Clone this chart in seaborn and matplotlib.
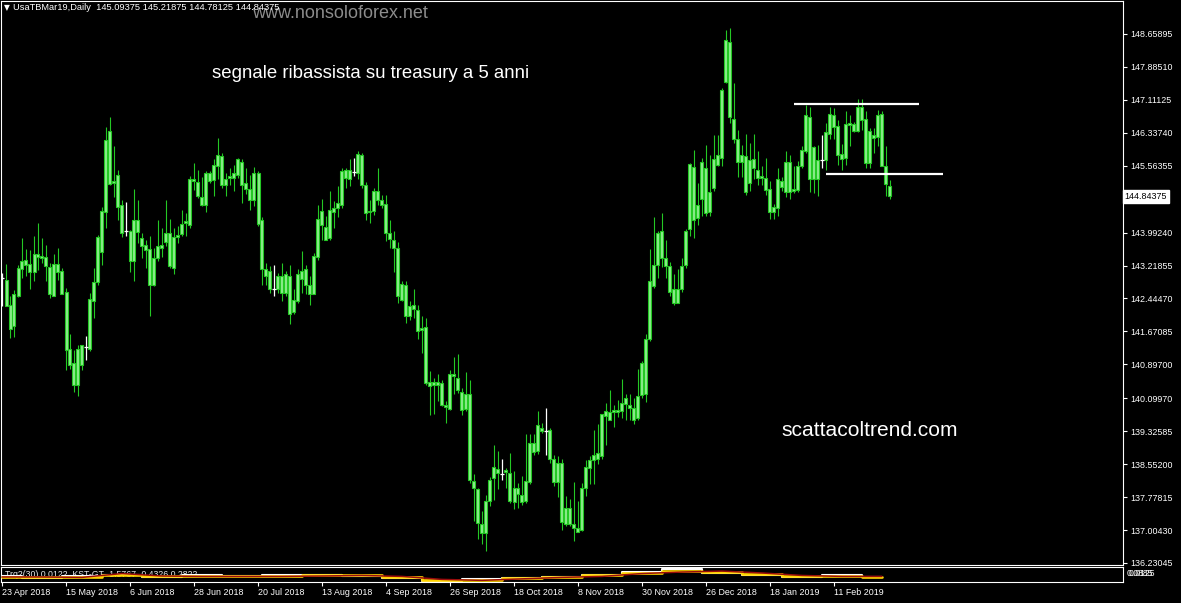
import numpy as np
import pandas as pd
import matplotlib
matplotlib.use("Agg")
import matplotlib.pyplot as plt
import matplotlib.transforms as mtrans
import seaborn as sns

# ---------------- data ----------------
opens = [142.93, 142.89, 142.28, 141.79, 142.50, 143.14, 143.24, 143.26, 143.06, 143.50,
         143.45, 143.42, 143.18, 142.51, 143.26, 143.08, 142.59, 141.25, 140.92, 140.40,
         140.89, 141.31, 141.26, 142.38, 142.82, 143.53, 144.47, 146.39, 145.16, 145.35,
         144.65, 144.02, 144.04, 143.32, 144.30, 143.86, 143.69, 143.61, 142.77, 143.40,
         143.69, 143.76, 143.98, 143.16, 143.89, 143.97, 144.21, 144.18, 145.24, 145.17,
         144.83, 144.65, 145.39, 145.22, 145.55, 145.80, 145.12, 145.28, 145.39, 145.35,
         145.65, 145.16, 145.02, 144.75, 145.39, 144.28, 143.13, 143.09, 142.67, 142.67,
         142.97, 142.58, 142.97, 142.12, 142.38, 143.09, 143.13, 142.77, 142.56, 143.42,
         144.49, 144.13, 143.87, 144.47, 144.57, 144.65, 145.28, 145.46, 145.41, 145.39,
         145.82, 145.11, 144.47, 144.49, 144.96, 144.76, 144.67, 143.98, 143.82, 143.63,
         142.42, 142.77, 142.04, 142.28, 142.18, 141.75, 141.78, 140.48, 140.42, 140.48,
         140.45, 139.94, 139.85, 140.62, 140.58, 140.24, 139.84, 140.21, 138.15, 137.96,
         137.14, 136.93, 137.69, 138.23, 138.44, 138.31, 138.37, 138.35, 137.66, 138.00,
         137.82, 137.69, 138.13, 138.84, 138.86, 139.41, 139.34, 139.35, 138.68, 138.13,
         138.59, 137.14, 137.53, 137.14, 137.04, 137.01, 137.98, 138.47, 138.65, 138.68,
         138.74, 139.68, 139.78, 139.78, 139.82, 139.80, 139.96, 139.93, 139.88, 139.64,
         140.17, 140.19, 141.50, 142.73, 143.24, 143.40, 143.40, 143.20, 142.67, 142.34,
         142.67, 143.24, 144.08, 145.53, 144.34, 144.77, 145.51, 144.47, 145.04, 145.59,
         145.75, 147.54, 148.48, 146.66, 146.19, 145.64, 145.80, 145.16, 145.72, 145.47,
         145.27, 145.27, 145.02, 144.47, 144.57, 145.20, 144.94, 145.64, 144.96, 145.00,
         145.55, 145.90, 146.71, 145.24, 145.70, 145.70, 145.70, 146.32, 146.76, 146.49,
         145.85, 145.74, 146.53, 146.55, 146.39, 146.94, 146.66, 145.63, 146.29, 146.25,
         146.78, 145.55, 145.09375]
highs = [143.04, 143.26, 142.50, 142.65, 143.24, 143.86, 143.61, 143.58, 143.92, 144.22,
         143.86, 143.71, 143.28, 143.50, 143.63, 143.16, 142.69, 141.60, 141.23, 141.36,
         141.34, 141.56, 142.57, 143.16, 143.94, 144.59, 146.48, 146.70, 146.02, 145.47,
         144.76, 144.70, 144.06, 145.02, 144.76, 143.99, 143.83, 143.92, 143.63, 144.30,
         144.10, 144.76, 144.31, 144.10, 144.14, 144.53, 144.46, 145.32, 145.63, 145.47,
         145.31, 145.43, 145.43, 145.71, 146.21, 145.86, 145.39, 145.51, 145.59, 145.75,
         145.71, 145.51, 145.35, 145.53, 145.43, 144.36, 143.28, 143.20, 143.24, 143.05,
         143.28, 143.09, 143.24, 142.66, 143.13, 143.56, 143.24, 142.97, 143.52, 144.65,
         144.77, 144.38, 144.96, 144.73, 145.08, 145.51, 145.51, 145.71, 145.75, 145.90,
         145.86, 145.17, 144.76, 145.04, 145.51, 144.88, 144.88, 144.29, 144.04, 143.78,
         142.85, 142.85, 142.38, 142.67, 142.30, 142.03, 141.99, 140.73, 140.58, 140.68,
         140.53, 140.03, 140.76, 141.07, 141.13, 140.34, 140.71, 140.54, 138.31, 137.99,
         137.45, 137.82, 138.26, 139.01, 138.86, 138.68, 138.47, 138.82, 138.39, 138.12,
         138.27, 139.25, 139.25, 139.25, 139.80, 139.52, 139.88, 139.41, 138.76, 138.74,
         138.67, 137.81, 137.73, 138.13, 137.69, 138.10, 138.65, 138.74, 139.35, 139.49,
         139.74, 139.98, 140.29, 139.93, 140.07, 140.56, 140.19, 140.19, 140.11, 140.78,
         140.97, 141.62, 143.61, 144.37, 144.02, 144.45, 143.83, 143.30, 143.03, 143.14,
         143.40, 144.08, 145.63, 145.94, 145.16, 145.74, 146.06, 145.82, 146.29, 146.29,
         147.39, 148.76, 148.79, 147.50, 146.41, 146.06, 146.32, 146.10, 146.32, 145.90,
         145.55, 145.74, 145.20, 144.67, 145.51, 145.31, 145.92, 145.82, 145.55, 145.67,
         146.02, 147.00, 146.94, 146.02, 146.06, 146.29, 146.57, 146.94, 146.92, 146.64,
         146.08, 146.86, 146.76, 146.60, 147.13, 147.13, 146.86, 146.45, 146.45, 146.88,
         146.84, 146.03, 145.21875]
lows = [142.26, 142.26, 141.52, 141.54, 142.48, 142.93, 142.97, 142.67, 142.85, 143.12,
        143.28, 142.85, 142.46, 142.50, 142.89, 142.54, 140.77, 140.79, 140.25, 140.15,
        140.76, 140.99, 141.21, 141.99, 142.77, 143.24, 144.10, 145.12, 144.84, 144.30,
        143.90, 143.92, 143.06, 142.85, 143.75, 143.40, 143.16, 142.04, 142.73, 143.32,
        143.43, 143.67, 143.16, 143.03, 143.75, 143.91, 143.91, 144.10, 145.00, 144.81,
        144.61, 144.47, 145.16, 144.85, 145.24, 145.04, 144.85, 145.12, 144.96, 145.28,
        144.69, 144.89, 144.53, 144.61, 144.14, 142.77, 142.77, 142.58, 142.50, 142.58,
        142.38, 142.50, 141.84, 142.09, 142.34, 142.58, 142.54, 142.30, 142.56, 143.36,
        143.83, 143.83, 143.83, 144.10, 144.36, 144.57, 145.04, 145.08, 145.32, 145.24,
        145.04, 144.29, 144.21, 144.41, 144.65, 144.57, 143.79, 143.63, 143.06, 142.34,
        142.38, 141.87, 141.95, 141.99, 141.49, 141.17, 140.42, 139.70, 139.72, 140.03,
        139.91, 139.51, 139.82, 140.19, 140.23, 139.70, 139.80, 138.12, 137.22, 136.79,
        136.67, 136.51, 137.58, 137.71, 137.96, 138.18, 138.00, 137.63, 137.49, 137.51,
        137.59, 137.63, 138.08, 138.76, 138.78, 139.29, 138.76, 138.59, 138.04, 137.77,
        137.01, 137.10, 137.10, 136.75, 136.95, 136.98, 137.81, 138.08, 138.08, 138.55,
        138.68, 138.99, 139.60, 139.43, 139.67, 139.64, 139.60, 139.60, 139.49, 139.60,
        140.11, 140.01, 141.44, 142.69, 142.93, 143.19, 142.93, 142.50, 142.28, 142.34,
        142.59, 143.16, 143.91, 143.87, 144.18, 144.38, 144.38, 144.38, 144.98, 145.55,
        145.55, 147.50, 146.57, 146.10, 145.31, 145.31, 144.88, 144.96, 145.24, 145.12,
        145.12, 144.88, 144.31, 144.31, 144.38, 144.96, 144.84, 144.77, 144.92, 144.94,
        145.51, 145.86, 144.94, 144.92, 144.86, 145.51, 145.47, 146.18, 146.18, 145.59,
        145.47, 145.59, 146.02, 146.35, 146.35, 146.41, 145.51, 145.51, 145.86, 146.03,
        145.55, 144.86, 144.78125]
closes = [142.93, 142.26, 141.73, 142.56, 143.16, 143.32, 143.36, 143.06, 143.50, 143.43,
          143.40, 143.20, 142.56, 143.26, 143.06, 142.56, 141.23, 140.89, 140.42, 141.26,
          141.34, 141.31, 142.43, 142.82, 143.90, 144.51, 146.17, 145.14, 145.21, 144.59,
          143.98, 144.02, 143.32, 144.30, 144.00, 143.67, 143.58, 142.77, 143.40, 143.67,
          143.63, 143.98, 143.20, 143.90, 143.94, 144.20, 144.26, 145.25, 145.20, 144.85,
          144.65, 145.39, 145.20, 145.57, 145.82, 145.12, 145.24, 145.33, 145.28, 145.71,
          145.12, 145.02, 144.75, 145.39, 144.20, 143.13, 142.97, 142.66, 142.67, 142.98,
          142.58, 143.01, 142.09, 142.41, 143.03, 142.91, 142.77, 142.56, 143.44, 144.31,
          144.18, 143.83, 144.52, 144.57, 144.69, 145.43, 145.46, 145.25, 145.41, 145.85,
          145.10, 144.45, 144.51, 144.96, 144.76, 144.65, 143.98, 143.84, 143.63, 142.50,
          142.79, 142.04, 142.26, 142.20, 141.67, 141.70, 140.46, 140.38, 140.49, 140.42,
          139.95, 139.89, 140.66, 140.66, 140.29, 139.82, 140.21, 138.19, 137.99, 137.16,
          136.94, 137.69, 138.19, 138.49, 138.35, 138.31, 138.41, 137.69, 138.00, 137.84,
          137.66, 138.15, 139.04, 139.05, 139.48, 139.33, 139.34, 138.68, 138.13, 138.59,
          137.20, 137.53, 137.14, 137.06, 136.95, 137.98, 138.49, 138.65, 138.76, 138.82,
          139.72, 139.80, 139.60, 139.82, 139.78, 140.00, 140.11, 139.88, 139.60, 140.15,
          140.93, 141.50, 142.85, 143.24, 143.98, 144.02, 143.20, 142.59, 142.34, 142.67,
          143.20, 144.02, 145.61, 144.30, 144.65, 145.64, 144.45, 144.94, 145.72, 145.82,
          147.35, 148.51, 146.71, 146.19, 145.64, 145.82, 144.94, 145.70, 145.51, 145.27,
          145.33, 145.00, 144.47, 144.60, 145.25, 145.06, 145.64, 144.94, 145.02, 145.55,
          145.94, 146.76, 145.24, 146.00, 145.24, 145.70, 146.35, 146.78, 146.47, 145.82,
          145.72, 146.55, 146.57, 146.37, 146.94, 146.64, 145.63, 146.39, 146.21, 146.76,
          145.55, 145.14, 144.84375]

date_tick_bars = [0, 16, 32, 48, 64, 80, 96, 112, 128, 144, 160, 176, 192, 208]
date_tick_labels = ["23 Apr 2018", "15 May 2018", "6 Jun 2018", "28 Jun 2018", "20 Jul 2018",
                    "13 Aug 2018", "4 Sep 2018", "26 Sep 2018", "18 Oct 2018", "8 Nov 2018",
                    "30 Nov 2018", "26 Dec 2018", "18 Jan 2019", "11 Feb 2019"]
price_ticks = [148.65895, 147.88510, 147.11125, 146.33740, 145.56355, 143.99240, 143.21855,
               142.44470, 141.67085, 140.89700, 140.09970, 139.32585, 138.55200, 137.77815,
               137.00430, 136.23045]
last_price = 144.84375

level_prices = [147.02, 145.38]
level_start_bar = [198.0, 206.0]
level_end_bar = [229.25, 235.25]

ind_bars = [0, 10, 20, 30, 40, 50, 60, 70, 80, 90, 100, 110, 120, 130, 140, 150, 160,
            170, 180, 190, 200, 210, 220]
ind_yellow = [0.29, 0.29, 0.32, 0.46, 0.36, 0.36, 0.39, 0.39, 0.43, 0.46, 0.29, 0.07,
              0.11, 0.25, 0.29, 0.43, 0.64, 0.75, 0.71, 0.54, 0.36, 0.39, 0.32]
ind_white = [0.36, 0.25, 0.36, 0.50, 0.32, 0.43, 0.36, 0.43, 0.50, 0.39, 0.25, 0.00,
             0.14, 0.21, 0.32, 0.50, 0.71, 0.89, 0.64, 0.46, 0.32, 0.43, 0.29]
ind_red = [0.32, 0.32, 0.29, 0.57, 0.39, 0.36, 0.36, 0.36, 0.39, 0.43, 0.36, 0.14,
           0.07, 0.18, 0.29, 0.36, 0.57, 0.68, 0.75, 0.61, 0.43, 0.36, 0.36]

# ---------------- style ----------------
sns.set_theme(style="dark", rc={"axes.facecolor": "black", "figure.facecolor": "black",
                                "savefig.facecolor": "black", "axes.edgecolor": "white",
                                "axes.grid": False})
plt.rcParams["font.family"] = ["Liberation Sans", "DejaVu Sans"]

W, H = 1181, 603
fig = plt.figure(figsize=(W / 100, H / 100), dpi=100, facecolor="black")


def box(x0, y0, x1, y1):
    return [x0 / W, 1 - y1 / H, (x1 - x0) / W, (y1 - y0) / H]


ax = fig.add_axes(box(1, 1, 1123, 565))
axi = fig.add_axes(box(1, 567, 1123, 582), sharex=ax)

df = pd.DataFrame({"open": opens, "high": highs, "low": lows, "close": closes})
df["bar"] = np.arange(len(df))
doji = df["open"] == df["close"]
nd = df[~doji]
dj = df[doji]

edge_green = "#24c824"
face_green = "#8cec8c"

ax.vlines(nd["bar"], nd["low"], nd["high"], color=edge_green, lw=0.8, zorder=2)
body_lo = np.minimum(nd["open"], nd["close"])
body_h = np.abs(nd["close"] - nd["open"]).clip(lower=0.02)
ax.bar(nd["bar"], body_h, bottom=body_lo, width=0.75, color=face_green,
       edgecolor=edge_green, linewidth=0.8, zorder=3)
ax.vlines(dj["bar"], dj["low"], dj["high"], color="white", lw=0.9, zorder=3)
ax.hlines(dj["close"], dj["bar"] - 0.45, dj["bar"] + 0.45, color="white", lw=0.9, zorder=3)

ax.hlines(level_prices, level_start_bar, level_end_bar, color="white", lw=1.6, zorder=4)

ax.set_xlim(-0.25, 280.25)
ax.set_ylim(136.182, 149.434)
ax.yaxis.tick_right()
ax.set_yticks(price_ticks)
ax.set_yticklabels([f"{v:.5f}" for v in price_ticks])
ax.tick_params(axis="y", colors="white", labelcolor="white", length=3, width=0.8,
               direction="out", labelsize=6.4, pad=2)
ax.tick_params(axis="x", bottom=False, labelbottom=False)
for s in ax.spines.values():
    s.set_color("white")
    s.set_linewidth(0.8)

tr = mtrans.blended_transform_factory(ax.transAxes, ax.transData)
ax.text(1.0015, last_price, f"{last_price:.5f}", transform=tr, ha="left", va="center",
        fontsize=6.4, color="black",
        bbox=dict(boxstyle="square,pad=0.22", fc="white", ec="white"), zorder=5)

# ---------------- indicator panel ----------------
ind = pd.DataFrame({"bar": ind_bars, "yellow": ind_yellow, "white": ind_white, "red": ind_red})
axi.text(4 / 1122, 0.5, "Trq2(30) 0.0122  KST-GT -1.5767 -0.4326 0.2822",
         transform=axi.transAxes, ha="left", va="center", fontsize=6.3, color="#e8e8e8",
         zorder=1)
sns.lineplot(data=ind, x="bar", y="white", ax=axi, color="white", lw=1.5,
             drawstyle="steps-mid", zorder=2)
sns.lineplot(data=ind, x="bar", y="yellow", ax=axi, color="#ffd400", lw=1.9,
             drawstyle="steps-mid", zorder=3)
sns.lineplot(data=ind, x="bar", y="red", ax=axi, color="#9a0c0c", lw=1.1, zorder=4)
axi.set_ylim(-0.05, 1.05)
axi.set_ylabel("")
axi.set_xlabel("")
axi.set_yticks([])
axi.set_xticks(date_tick_bars)
axi.set_xticklabels(date_tick_labels)
for lab in axi.get_xticklabels():
    lab.set_horizontalalignment("left")
axi.tick_params(axis="x", colors="white", labelcolor="white", length=3, width=0.8,
                direction="out", labelsize=6.4, pad=1.5, bottom=True)
for s in axi.spines.values():
    s.set_color("white")
    s.set_linewidth(0.8)

fig.text(1127 / W, 1 - 574 / H, "0.0885", fontsize=6.2, color="white", ha="left", va="center")
fig.text(1129 / W, 1 - 574 / H, "0.0125", fontsize=6.2, color="white", ha="left", va="center")

# ---------------- header texts ----------------
fig.text(252 / W, 1 - 13 / H, "www.nonsoloforex.net", fontsize=13, color="#8c8c8c",
         ha="left", va="center", zorder=1)
fig.text(4 / W, 1 - 8 / H, "\u25bc", fontsize=5.5, color="white", ha="left", va="center",
         family="DejaVu Sans")
fig.text(13 / W, 1 - 8 / H, "UsaTBMar19,Daily  145.09375 145.21875 144.78125 144.84375",
         fontsize=6.7, color="white", ha="left", va="center", zorder=5)
fig.text(212 / W, 1 - 73 / H, "segnale ribassista su treasury a 5 anni", fontsize=13.4,
         color="white", ha="left", va="center")
fig.text(781 / W, 1 - 430 / H, "scattacoltrend.com", fontsize=15.1, color="white",
         ha="left", va="center")

fig.savefig("out.png", dpi=100, facecolor="black")
